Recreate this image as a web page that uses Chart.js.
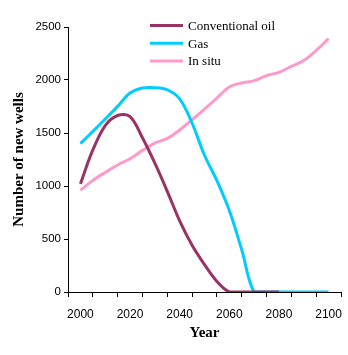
<!DOCTYPE html>
<html lang="en">
<head>
  <meta charset="UTF-8">
  <title>Number of new wells</title>
  <script src="https://cdn.jsdelivr.net/npm/chart.js"></script>
  <style>
    html, body {
      margin: 0;
      padding: 0;
      background: #fff;
    }
  </style>
</head>
<body>
  <canvas id="graphique" width="348" height="355"></canvas>

  <script>
    // Data (5-year steps)
    const years = [2000, 2005, 2010, 2015, 2020, 2025, 2030, 2035, 2040, 2045, 2050,
                   2055, 2060, 2065, 2070, 2075, 2080, 2085, 2090, 2095, 2100];
    const conventionalOil = [1020, 1340, 1570, 1665, 1655, 1455, 1215, 950, 670, 440, 258,
                             100, 0, 0, 0, 0, 0];
    const gas = [1400, 1515, 1632, 1751, 1877, 1925, 1928, 1908, 1822, 1594, 1290,
                 1050, 768, 399, 0, 0, 0, 0, 0, 0, 0];
    const inSitu = [960, 1053, 1128, 1198, 1257, 1336, 1405, 1449, 1528, 1625, 1726,
                    1830, 1934, 1972, 1994, 2041, 2072, 2128, 2185, 2279, 2390];

    const xLabels = [2000, 2020, 2040, 2060, 2080, 2100];
    const yLabels = [0, 500, 1000, 1500, 2000, 2500];

    const seriesNames = ["Conventional oil", "Gas", "In situ"];
    const seriesColors = ["#993366", "#00ccff", "#ff99cc"];

    function points(values) {
      return values.map((v, i) => ({ x: years[i], y: v }));
    }

    // legend drawn inside the plot, like the original
    const legendInPlot = {
      id: "legendInPlot",
      afterDraw(chart) {
        const c = chart.ctx;
        c.save();
        c.font = '13px "Liberation Serif", "Times New Roman", serif';
        c.textBaseline = "middle";
        chart.data.datasets.forEach((ds, i) => {
          const y = 25.5 + i * 17.7;
          c.strokeStyle = ds.borderColor;
          c.lineWidth = 3;
          c.beginPath();
          c.moveTo(150, y);
          c.lineTo(183, y);
          c.stroke();
          c.fillStyle = "#000";
          c.fillText(ds.label, 188, y + 1);
        });
        c.restore();
      }
    };

    const allSeries = [conventionalOil, gas, inSitu];

    const chart = new Chart(document.getElementById("graphique"), {
      type: "line",
      data: {
        datasets: allSeries.map((values, i) => ({
          label: seriesNames[i],
          data: points(values),
          borderColor: seriesColors[i],
          backgroundColor: seriesColors[i],
          borderWidth: 3,
          pointRadius: 0,
          fill: false,
          tension: 0.35
        }))
      },
      options: {
        responsive: false,
        animation: false,
        layout: { padding: { left: 0, right: 7, top: 27, bottom: 0 } },
        plugins: {
          legend: { display: false },
          tooltip: { enabled: false }
        },
        scales: {
          x: {
            type: "linear",
            min: 1995,
            max: 2105,
            afterBuildTicks: (scale) => {
              const t = [];
              for (let v = 1995; v <= 2105; v += 5) t.push({ value: v });
              scale.ticks = t;
            },
            afterFit: (scale) => {
              scale.height = 63;
              scale.paddingLeft = 0;
              scale.paddingRight = 0;
            },
            ticks: {
              autoSkip: false,
              maxRotation: 0,
              padding: 10,
              color: "#000",
              font: { family: '"Liberation Sans", Arial, sans-serif', size: 12 },
              callback: (v) => xLabels.includes(v) ? String(v) : ""
            },
            grid: {
              drawOnChartArea: false,
              tickLength: 5,
              tickWidth: 1,
              tickColor: (ctx) => (ctx.tick && ctx.tick.value % 10 === 5) ? "#000" : "rgba(0,0,0,0)",
              color: "rgba(0,0,0,0)"
            },
            border: { display: true, color: "#000", width: 1 },
            title: {
              display: true,
              text: "Year",
              color: "#000",
              padding: { top: 0, bottom: 13 },
              font: { family: '"Liberation Serif", "Times New Roman", serif', size: 15, weight: "bold" }
            }
          },
          y: {
            min: 0,
            max: 2500,
            afterBuildTicks: (scale) => {
              scale.ticks = yLabels.map(v => ({ value: v }));
            },
            afterFit: (scale) => { scale.width = 68; },
            ticks: {
              padding: 3,
              color: "#000",
              font: { family: '"Liberation Sans", Arial, sans-serif', size: 11.5 },
              callback: (v) => String(v)
            },
            grid: {
              drawOnChartArea: false,
              tickLength: 4,
              tickWidth: 1,
              tickColor: "#000",
              color: "#000"
            },
            border: { display: true, color: "#000", width: 1 },
            title: {
              display: true,
              text: "Number of new wells",
              color: "#000",
              padding: { top: 10, bottom: 0 },
              font: { family: '"Liberation Serif", "Times New Roman", serif', size: 15, weight: "bold" }
            }
          }
        }
      },
      plugins: [legendInPlot]
    });
  </script>
</body>
</html>
